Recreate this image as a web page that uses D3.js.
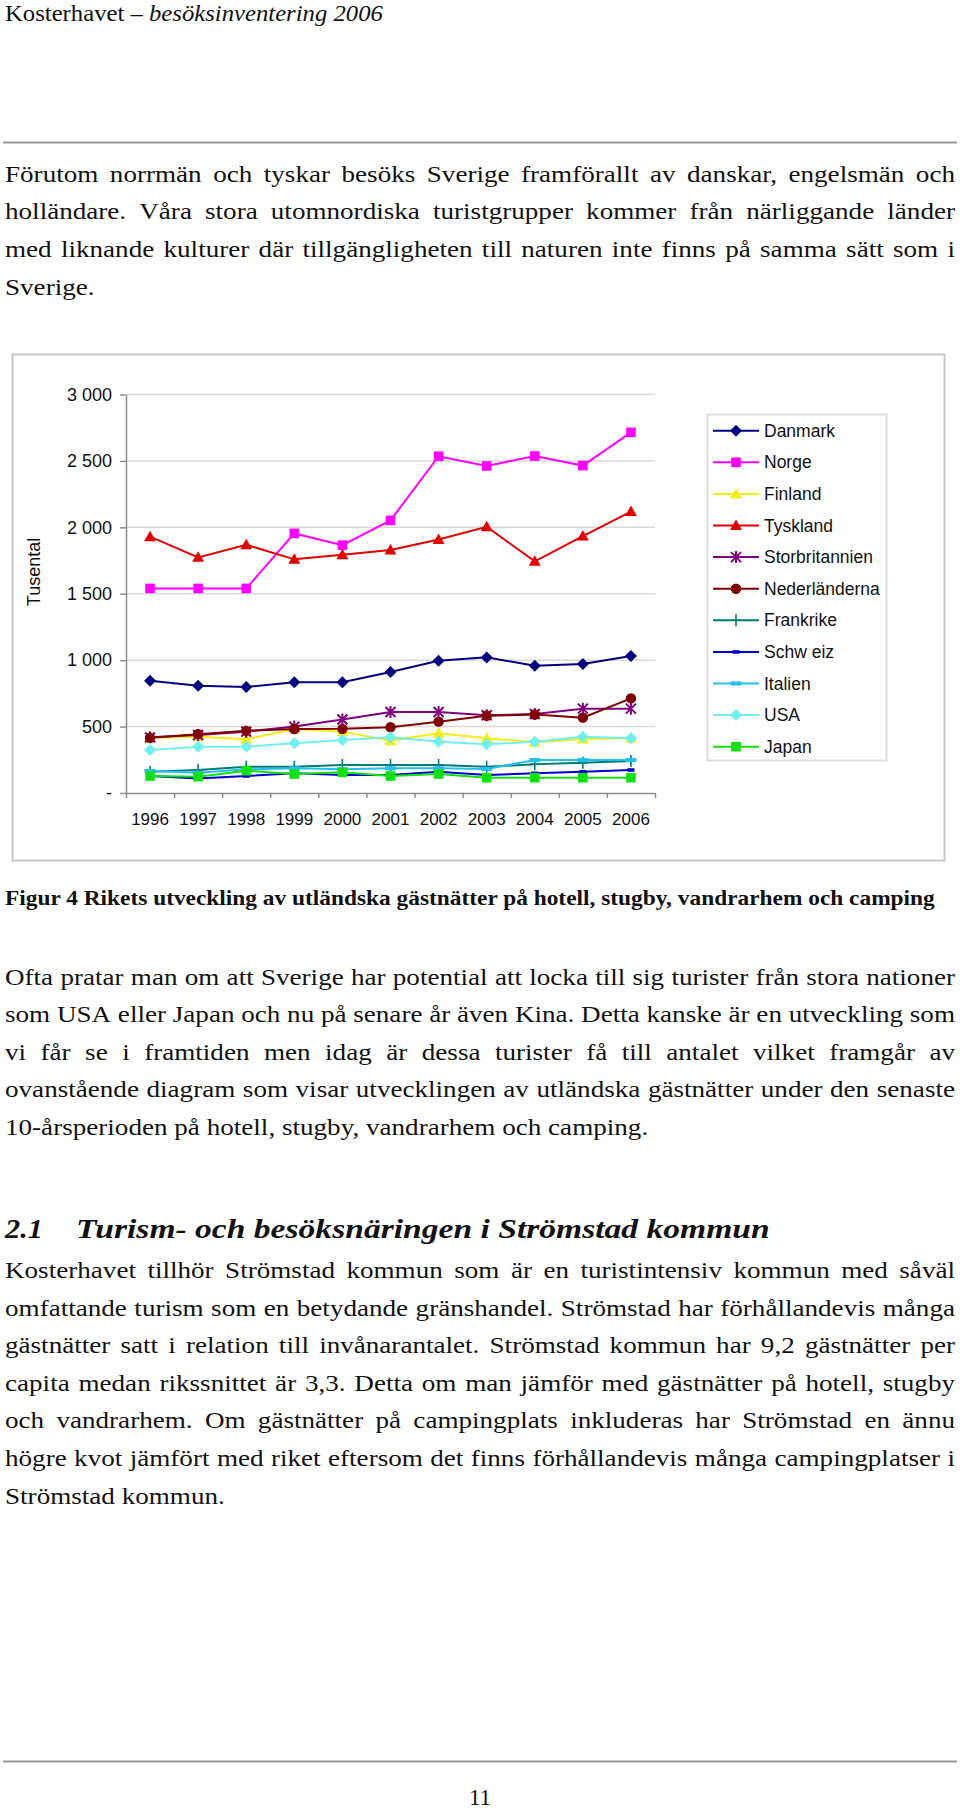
<!DOCTYPE html>
<html><head><meta charset="utf-8">
<script src="https://cdn.jsdelivr.net/npm/d3@7"></script>
<style>body{margin:0;background:#fff} svg{display:block}</style>
</head><body>
<svg id="page" width="960" height="1812"></svg>
<script>
// ---------- DATA ----------
const years = ["1996","1997","1998","1999","2000","2001","2002","2003","2004","2005","2006"];
const seriesNames = ["Danmark","Norge","Finland","Tyskland","Storbritannien","Nederländerna","Frankrike","Schw eiz","Italien","USA","Japan"];
const danmark        = [845, 808, 798, 833, 833, 911, 996, 1021, 958, 971, 1031];
const norge          = [1540, 1540, 1540, 1954, 1866, 2052, 2535, 2462, 2537, 2465, 2715];
const finland        = [414, 424, 404, 482, 462, 394, 449, 412, 382, 407, 412];
const tyskland       = [1930, 1774, 1869, 1759, 1794, 1829, 1909, 2004, 1744, 1934, 2119];
const storbritannien = [419, 437, 462, 500, 553, 610, 610, 585, 595, 635, 635];
const nederlanderna  = [416, 443, 468, 482, 483, 495, 537, 581, 591, 567, 712];
const frankrike      = [160, 173, 198, 198, 211, 211, 211, 198, 216, 228, 241];
const schweiz        = [128, 110, 128, 148, 135, 135, 160, 135, 148, 160, 173];
const italien        = [166, 153, 178, 186, 178, 186, 186, 181, 248, 248, 248];
const usa            = [324, 349, 349, 374, 399, 419, 386, 367, 386, 424, 412];
const japan          = [128, 123, 168, 143, 156, 128, 143, 115, 115, 115, 115];
const yTicks = [0, 500, 1000, 1500, 2000, 2500, 3000];
const yTickLabels = ["-", "500", "1 000", "1 500", "2 000", "2 500", "3 000"];
const yAxisTitle = "Tusental";

const seriesValues = [danmark, norge, finland, tyskland, storbritannien, nederlanderna, frankrike, schweiz, italien, usa, japan];
const seriesColors = ["#000080","#FF00FF","#F2EC1A","#E00000","#800080","#800000","#007B7B","#0000D0","#22BFEF","#70F0F0","#10E010"];
const seriesMarkers = ["diamond","square","triangle","triangle","asterisk","circle","plus","dashS","dashL","diamond","square"];

// ---------- TEXT ----------
const headerPlain = "Kosterhavet – ";
const headerItalic = "besöksinventering 2006";
const para1 = [
 "Förutom norrmän och tyskar besöks Sverige framförallt av danskar, engelsmän och",
 "holländare. Våra stora utomnordiska turistgrupper kommer från närliggande länder",
 "med liknande kulturer där tillgängligheten till naturen inte finns på samma sätt som i",
 "Sverige."];
const caption = "Figur 4 Rikets utveckling av utländska gästnätter på hotell, stugby, vandrarhem och camping";
const para2 = [
 "Ofta pratar man om att Sverige har potential att locka till sig turister från stora nationer",
 "som USA eller Japan och nu på senare år även Kina. Detta kanske är en utveckling som",
 "vi får se i framtiden men idag är dessa turister få till antalet vilket framgår av",
 "ovanstående diagram som visar utvecklingen av utländska gästnätter under den senaste",
 "10-årsperioden på hotell, stugby, vandrarhem och camping."];
const headingNum = "2.1";
const headingText = "Turism- och besöksnäringen i Strömstad kommun";
const para3 = [
 "Kosterhavet tillhör Strömstad kommun som är en turistintensiv kommun med såväl",
 "omfattande turism som en betydande gränshandel. Strömstad har förhållandevis många",
 "gästnätter satt i relation till invånarantalet. Strömstad kommun har 9,2 gästnätter per",
 "capita medan rikssnittet är 3,3. Detta om man jämför med gästnätter på hotell, stugby",
 "och vandrarhem. Om gästnätter på campingplats inkluderas har Strömstad en ännu",
 "högre kvot jämfört med riket eftersom det finns förhållandevis många campingplatser i",
 "Strömstad kommun."];
const pageNumber = "11";

// ---------- PAGE ----------
const svg = d3.select("#page");
const serif = "'Liberation Serif','Times New Roman',serif";
const sans = "'Liberation Sans',Arial,sans-serif";
const BODY = 23;

function measure(str, size, weight, style) {
  const t = svg.append("text").attr("font-family", serif).attr("font-size", size)
    .attr("font-weight", weight || "normal").attr("font-style", style || "normal").text(str);
  const w = t.node().getComputedTextLength(); t.remove(); return w;
}
// horizontal scale for body font (Garamond is narrower than Times)
const bodySx = (225 - 5) / measure("Strömstad kommun.", BODY);

function paragraph(lines, o) {
  const g = svg.append("g").attr("transform", `translate(${o.x0},0) scale(${o.sx},1)`);
  const avail = (o.x1 - o.x0) / o.sx;
  lines.forEach((ln, i) => {
    const yb = o.y0 + i * o.lh;
    const t = g.append("text").attr("y", yb).attr("font-family", serif).attr("font-size", o.size)
      .attr("font-weight", o.weight || "normal").attr("fill", "#111");
    if (i === lines.length - 1) { t.attr("x", 0).text(ln); return; }
    const words = ln.split(" ");
    const sp = words.map(w => t.append("tspan").text(w));
    const widths = sp.map(s => s.node().getComputedTextLength());
    const sum = d3.sum(widths);
    let gap = (avail - sum) / (words.length - 1);
    const minGap = o.size * 0.18;
    if (gap < minGap) {
      const k = avail / (sum + minGap * (words.length - 1));
      t.attr("transform", `scale(${k},1)`); gap = minGap;
    }
    let x = 0;
    sp.forEach((s, k) => { s.attr("x", x); x += widths[k] + gap; });
  });
}

// header
{
  const t = svg.append("text").attr("y", 21).attr("font-family", serif).attr("font-size", 24).attr("fill", "#111");
  t.append("tspan").text(headerPlain);
  t.append("tspan").attr("font-style", "italic").text(headerItalic);
  const w = t.node().getComputedTextLength();
  t.attr("transform", `translate(5,0) scale(${(383 - 5) / w},1)`);
}
svg.append("line").attr("x1", 3).attr("x2", 957).attr("y1", 142.5).attr("y2", 142.5).attr("stroke", "#9a9a9a").attr("stroke-width", 2);

paragraph(para1, {x0: 5, x1: 955, y0: 181.7, lh: 37.8, size: BODY, sx: bodySx});

// caption
{
  const t = svg.append("text").attr("y", 905).attr("font-family", serif).attr("font-size", 22)
    .attr("font-weight", "bold").attr("fill", "#111").text(caption);
  const w = t.node().getComputedTextLength();
  t.attr("transform", `translate(5,0) scale(${(935 - 5) / w},1)`);
}
paragraph(para2, {x0: 5, x1: 955, y0: 985, lh: 37.4, size: BODY, sx: bodySx});

// heading
{
  const t0 = svg.append("text").attr("y", 1238).attr("font-family", serif).attr("font-size", 28)
    .attr("font-weight", "bold").attr("font-style", "italic").attr("fill", "#111").text(headingNum);
  const w0 = t0.node().getComputedTextLength();
  t0.attr("transform", `translate(5,0) scale(${38 / w0},1)`);
  const t = svg.append("text").attr("y", 1238).attr("font-family", serif).attr("font-size", 28)
    .attr("font-weight", "bold").attr("font-style", "italic").attr("fill", "#111").text(headingText);
  const w = t.node().getComputedTextLength();
  t.attr("transform", `translate(76,0) scale(${(770 - 76) / w},1)`);
}
paragraph(para3, {x0: 5, x1: 955, y0: 1278, lh: 37.6, size: BODY, sx: bodySx});

svg.append("line").attr("x1", 3).attr("x2", 957).attr("y1", 1761.5).attr("y2", 1761.5).attr("stroke", "#9a9a9a").attr("stroke-width", 2);
svg.append("text").attr("x", 480).attr("y", 1805).attr("text-anchor", "middle").attr("font-family", serif)
  .attr("font-size", 23).attr("fill", "#111").text(pageNumber);

// ---------- CHART ----------
const chart = svg.append("g");
chart.append("rect").attr("x", 12.5).attr("y", 354.5).attr("width", 932).attr("height", 506)
  .attr("fill", "#fff").attr("stroke", "#c8c8c8").attr("stroke-width", 2);

const x = d3.scaleBand().domain(years).range([126, 655]);
const cx = d => x(d) + x.bandwidth() / 2;
const y = d3.scaleLinear().domain([0, 3000]).range([793, 394.5]);

// gridlines
chart.append("g").selectAll("line").data(yTicks.filter(d => d > 0)).join("line")
  .attr("x1", 126).attr("x2", 655).attr("y1", d => y(d)).attr("y2", d => y(d))
  .attr("stroke", "#dadada").attr("stroke-width", 1.5);

// y axis
const ya = chart.append("g").attr("transform", "translate(126,0)")
  .call(d3.axisLeft(y).tickValues(yTicks).tickFormat((d, i) => yTickLabels[i]).tickSize(6).tickSizeOuter(0).tickPadding(8));
ya.select(".domain").attr("stroke", "#8c8c8c").attr("stroke-width", 1.5);
ya.selectAll(".tick line").attr("stroke", "#8c8c8c").attr("stroke-width", 1.5);
ya.selectAll("text").attr("font-family", sans).attr("font-size", 18).attr("fill", "#111");

// x axis: ticks at category boundaries
const xe = d3.scaleLinear().domain([0, years.length]).range([126, 655]);
const xa = chart.append("g").attr("transform", "translate(0,793)")
  .call(d3.axisBottom(xe).tickValues(d3.range(years.length + 1)).tickFormat("").tickSize(5).tickSizeOuter(0));
xa.select(".domain").attr("stroke", "#8c8c8c").attr("stroke-width", 1.5);
xa.selectAll(".tick line").attr("stroke", "#8c8c8c").attr("stroke-width", 1.5);
const xl = chart.append("g").attr("transform", "translate(0,793)")
  .call(d3.axisBottom(x).tickSize(0).tickPadding(20));
xl.select(".domain").remove();
xl.selectAll("text").attr("font-family", sans).attr("font-size", 17).attr("fill", "#111");

chart.append("text").attr("transform", "translate(40,572) rotate(-90)").attr("text-anchor", "middle")
  .attr("font-family", sans).attr("font-size", 18).attr("fill", "#111").text(yAxisTitle);

function marker(g, type, color) {
  switch (type) {
    case "diamond": g.append("path").attr("d", "M0,-6L6,0L0,6L-6,0Z").attr("fill", color); break;
    case "square": g.append("rect").attr("x", -4.8).attr("y", -4.8).attr("width", 9.6).attr("height", 9.6).attr("fill", color); break;
    case "triangle": g.append("path").attr("d", "M0,-6L6,4.5L-6,4.5Z").attr("fill", color); break;
    case "circle": g.append("circle").attr("r", 5.2).attr("fill", color); break;
    case "asterisk": g.append("path").attr("d", "M-5,-5L5,5M-5,5L5,-5M0,-6L0,6").attr("stroke", color).attr("stroke-width", 2).attr("fill", "none"); break;
    case "plus": g.append("path").attr("d", "M0,-6L0,6M-5,0L5,0").attr("stroke", color).attr("stroke-width", 1.6).attr("fill", "none"); break;
    case "dashS": g.append("rect").attr("x", -3.5).attr("y", -1.8).attr("width", 7).attr("height", 3.6).attr("fill", color); break;
    case "dashL": g.append("rect").attr("x", -5.5).attr("y", -2).attr("width", 11).attr("height", 4).attr("fill", color); break;
  }
}

const line = d3.line().x((d, i) => cx(years[i])).y(d => y(d));
seriesValues.forEach((vals, s) => {
  const g = chart.append("g");
  g.append("path").attr("d", line(vals)).attr("fill", "none").attr("stroke", seriesColors[s]).attr("stroke-width", 2);
  vals.forEach((v, i) => {
    const m = g.append("g").attr("transform", `translate(${cx(years[i])},${y(v)})`);
    marker(m, seriesMarkers[s], seriesColors[s]);
  });
});

// legend
const lg = chart.append("g");
lg.append("rect").attr("x", 707.5).attr("y", 414.5).attr("width", 179).attr("height", 346)
  .attr("fill", "#fff").attr("stroke", "#dedede").attr("stroke-width", 2);
seriesNames.forEach((name, i) => {
  const yy = 430.7 + i * 31.6;
  const e = lg.append("g").attr("transform", `translate(0,${yy})`);
  e.append("line").attr("x1", 713).attr("x2", 759).attr("stroke", seriesColors[i]).attr("stroke-width", 2);
  marker(e.append("g").attr("transform", "translate(736,0)"), seriesMarkers[i], seriesColors[i]);
  e.append("text").attr("x", 764).attr("dy", "0.35em").attr("font-family", sans).attr("font-size", 17.5)
    .attr("fill", "#111").text(name);
});
</script>
</body></html>
